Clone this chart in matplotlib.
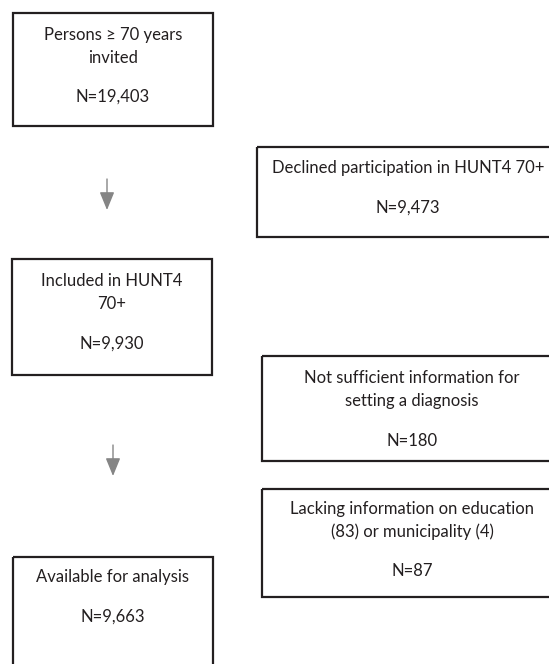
import matplotlib.pyplot as plt
from matplotlib.patches import Rectangle

# Flowchart content
box_labels = [
    ["Persons \u2265 70 years", "invited"],
    ["Declined participation in HUNT4 70+"],
    ["Included in HUNT4", "70+"],
    ["Not sufficient information for", "setting a diagnosis"],
    ["Lacking information on education", "(83) or municipality (4)"],
    ["Available for analysis"],
]
box_counts = ["N=19,403", "N=9,473", "N=9,930", "N=180", "N=87", "N=9,663"]

# layout in pixel units: (left, top, width, height, first-line y, count y)
box_layout = [
    (13, 13, 200, 113, 35, 97),
    (257, 147, 302, 90, 168, 208),
    (12, 259, 200, 116, 281, 344),
    (262, 356, 300, 105, 378, 441),
    (262, 489, 300, 108, 509, 571),
    (13, 557, 200, 130, 577, 617),
]
line_step = 23
arrows = [(107, 179, 210), (113, 445, 476)]

W, H = 549, 664
fig = plt.figure(figsize=(W / 100, H / 100), dpi=100)
ax = fig.add_axes([0, 0, 1, 1])
ax.set_xlim(0, W)
ax.set_ylim(H, 0)
ax.axis("off")

font = dict(ha="center", va="center", fontsize=12,
            family=["Lato", "DejaVu Sans"], color="#231f20")

for lines, count, (x, y, w, h, ty, ny) in zip(box_labels, box_counts, box_layout):
    ax.add_patch(Rectangle((x, y), w, h, fill=False, edgecolor="#231f20", linewidth=1.6))
    cx = x + w / 2
    for k, line in enumerate(lines):
        ax.text(cx, ty + k * line_step, line, **font)
    ax.text(cx, ny, count, **font)

for x, y0, y1 in arrows:
    ax.annotate("", xy=(x, y1), xytext=(x, y0),
                arrowprops=dict(arrowstyle="-|>,head_length=1.1,head_width=0.45",
                                color="#858585", lw=1.0, shrinkA=0, shrinkB=0))

fig.savefig("out.png", dpi=100)
